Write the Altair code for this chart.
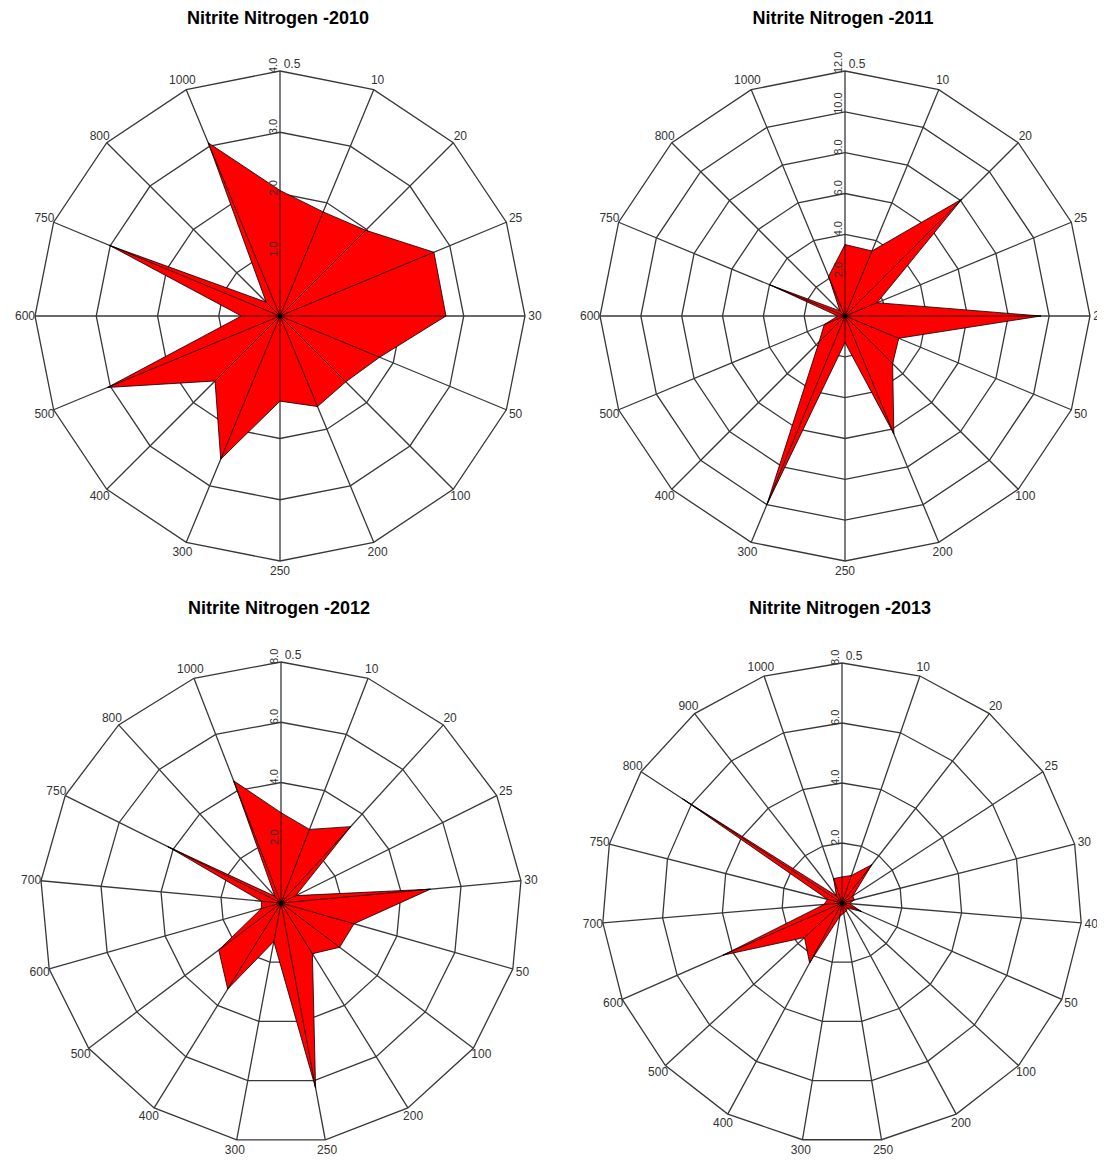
import math
import altair as alt
import pandas as pd

# ---------------- data ----------------
titles = ["Nitrite Nitrogen -2010", "Nitrite Nitrogen -2011",
          "Nitrite Nitrogen -2012", "Nitrite Nitrogen -2013"]

cats_2010 = ["0.5", "10", "20", "25", "30", "50", "100", "200", "250", "300",
             "400", "500", "600", "750", "800", "1000"]
vals_2010 = [2.05, 1.84, 1.98, 2.72, 2.71, 1.76, 1.52, 1.6, 1.39, 2.53,
             1.5, 3.05, 0.63, 3.02, 0.32, 3.06]
ticks_2010 = [1.0, 2.0, 3.0, 4.0]
tick_labels_2010 = ["1.0", "2.0", "3.0", "4.0"]

cats_2011 = ["0.5", "10", "20", "25", "26", "50", "100", "200", "250", "300",
             "400", "500", "600", "750", "800", "1000"]
vals_2011 = [3.5, 3.45, 8.1, 1.7, 9.6, 2.85, 3.3, 6.25, 1.3, 10.0,
             1.8, 1.1, 0.35, 4.0, 0.35, 2.1]
ticks_2011 = [2.0, 4.0, 6.0, 8.0, 10.0, 12.0]
tick_labels_2011 = ["2.0", "4.0", "6.0", "8.0", "10.0", "12.0"]

cats_2012 = ["0.5", "10", "20", "25", "30", "50", "100", "200", "250", "300",
             "400", "500", "600", "700", "750", "800", "1000"]
vals_2012 = [3.0, 2.62, 3.43, 0.55, 4.98, 2.52, 2.44, 1.98, 6.25, 1.3,
             3.36, 2.59, 0.68, 0.65, 4.2, 0.3, 4.35]
ticks_2012 = [2.0, 4.0, 6.0, 8.0]
tick_labels_2012 = ["2.0", "4.0", "6.0", "8.0"]

cats_2013 = ["0.5", "10", "20", "25", "30", "40", "50", "100", "200", "250",
             "300", "400", "500", "600", "700", "750", "800", "900", "1000"]
vals_2013 = [0.87, 0.97, 1.62, 0.43, 0.42, 0.25, 0.71, 0.25, 0.3, 0.35,
             0.45, 2.27, 1.7, 4.33, 0.6, 0.5, 6.35, 0.3, 0.86]
ticks_2013 = [2.0, 4.0, 6.0, 8.0]
tick_labels_2013 = ["2.0", "4.0", "6.0", "8.0"]

# ---------------- layout / style ----------------
PW = 542
PH_TOP, PH_BOTTOM = 547, 535
FONT = "Liberation Sans"
GRID = "#383838"
TXT = "#333333"
LABEL_GAP = 10


def radar(title, cats, vals, ticks, tick_labels, radius_px, ph, cx_px, cy_px,
          clip_labels=False):
    n = len(cats)
    vmax = ticks[-1]
    k = radius_px / vmax
    ang = [math.pi / 2 - 2 * math.pi * i / n for i in range(n)]
    cs = [math.cos(a) for a in ang]
    sn = [math.sin(a) for a in ang]

    xs = alt.Scale(domain=[-cx_px / k, (PW - cx_px) / k], nice=False, zero=False)
    ys = alt.Scale(domain=[-(ph - cy_px) / k, cy_px / k], nice=False, zero=False)

    def X(f):
        return alt.X(f, type="quantitative", scale=xs, axis=None)

    def Y(f):
        return alt.Y(f, type="quantitative", scale=ys, axis=None)

    rings = pd.DataFrame([
        {"level": t, "seq": i, "x": t * cs[i % n], "y": t * sn[i % n]}
        for t in ticks for i in range(n + 1)
    ])
    spokes = pd.DataFrame({"x0": [0.0] * n, "y0": [0.0] * n,
                           "x1": [vmax * c for c in cs],
                           "y1": [vmax * s for s in sn]})
    poly = pd.DataFrame({"seq": list(range(n + 1)),
                         "x": [vals[i % n] * cs[i % n] for i in range(n + 1)],
                         "y": [vals[i % n] * sn[i % n] for i in range(n + 1)]})
    vlines = pd.DataFrame({"x0": [0.0] * n, "y0": [0.0] * n,
                           "x1": [v * c for v, c in zip(vals, cs)],
                           "y1": [v * s for v, s in zip(vals, sn)]})
    rl = vmax + LABEL_GAP / k
    labels = pd.DataFrame({"x": [rl * c for c in cs], "y": [rl * s for s in sn],
                           "text": cats, "first": [i == 0 for i in range(n)]})
    rlabels = pd.DataFrame({"x": [0.0] * len(ticks), "y": ticks,
                            "text": tick_labels})
    center = pd.DataFrame({"x": [0.0], "y": [0.0]})

    ring_layer = alt.Chart(rings).mark_line(
        stroke=GRID, strokeWidth=1.3
    ).encode(x=X("x"), y=Y("y"), detail="level:N", order="seq:Q")

    spoke_layer = alt.Chart(spokes).mark_rule(
        stroke=GRID, strokeWidth=1.3
    ).encode(x=X("x0"), y=Y("y0"), x2="x1", y2="y1")

    poly_layer = alt.Chart(poly).mark_line(
        fill="#ff0000", stroke="#000000", strokeWidth=0.8
    ).encode(x=X("x"), y=Y("y"), order="seq:Q")

    vline_layer = alt.Chart(vlines).mark_rule(
        stroke="#000000", strokeWidth=0.8
    ).encode(x=X("x0"), y=Y("y0"), x2="x1", y2="y1")

    center_layer = alt.Chart(center).mark_circle(
        color="#000000", size=22, opacity=1
    ).encode(x=X("x"), y=Y("y"))

    lab_layer = alt.Chart(labels).transform_filter("!datum.first").mark_text(
        font=FONT, fontSize=12, color=TXT, align="center", baseline="middle",
        clip=clip_labels
    ).encode(x=X("x"), y=Y("y"), text="text:N")

    lab0_layer = alt.Chart(labels).transform_filter("datum.first").mark_text(
        font=FONT, fontSize=12, color=TXT, align="center", baseline="middle",
        dx=12, dy=3
    ).encode(x=X("x"), y=Y("y"), text="text:N")

    rlab_layer = alt.Chart(rlabels).mark_text(
        font=FONT, fontSize=11, color=TXT, angle=270, align="left",
        baseline="alphabetic", dx=-2, dy=-3
    ).encode(x=X("x"), y=Y("y"), text="text:N")

    return alt.layer(
        ring_layer, spoke_layer, poly_layer, vline_layer, center_layer,
        lab_layer, lab0_layer, rlab_layer
    ).properties(
        width=PW, height=ph,
        title=alt.Title(title, fontSize=18, font=FONT, fontWeight="bold",
                        color="#000000", anchor="middle",
                        dx=cx_px - PW / 2.0 - 2, offset=2)
    )


p1 = radar(titles[0], cats_2010, vals_2010, ticks_2010, tick_labels_2010,
           245, PH_TOP, 272, 286)
p2 = radar(titles[1], cats_2011, vals_2011, ticks_2011, tick_labels_2011,
           245, PH_TOP, 290, 286, clip_labels=True)
p3 = radar(titles[2], cats_2012, vals_2012, ticks_2012, tick_labels_2012,
           241, PH_BOTTOM, 273, 283)
p4 = radar(titles[3], cats_2013, vals_2013, ticks_2013, tick_labels_2013,
           240, PH_BOTTOM, 287, 283, clip_labels=True)

chart = alt.vconcat(
    alt.hconcat(p1, p2, spacing=5),
    alt.hconcat(p3, p4, spacing=5),
    spacing=23
).properties(
    padding={"top": 2, "left": 0, "right": 0, "bottom": 0},
    background="white"
).configure_view(stroke=None)

chart.save("out.html", embed_options={"renderer": "svg", "actions": False})
